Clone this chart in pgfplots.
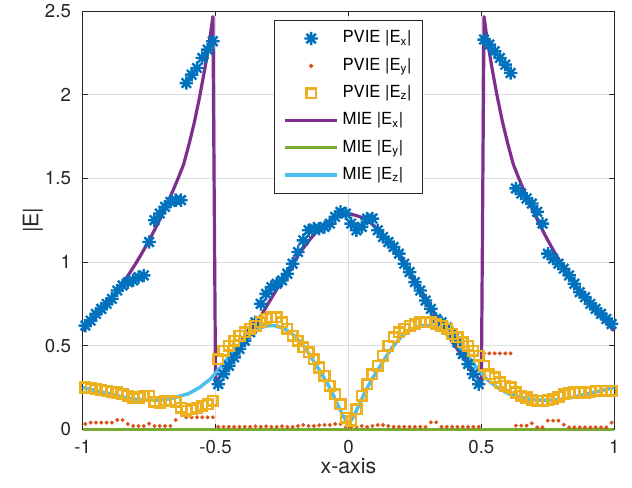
\documentclass[border=0pt]{standalone}
\usepackage{fontspec}
\setmainfont{TeX Gyre Heros}
\usepackage{pgfplots}
\usepackage{pgfplotstable}
\pgfplotsset{compat=1.18}

\definecolor{mblue}{HTML}{0072BD}
\definecolor{mred}{HTML}{D95319}
\definecolor{myellow}{HTML}{EDB120}
\definecolor{mpurple}{HTML}{7E2F8E}
\definecolor{mgreen}{HTML}{77AC30}
\definecolor{mcyan}{HTML}{4DBEEE}
\definecolor{axgray}{HTML}{262626}

% matlab style '*' marker, 8 arms
\pgfdeclareplotmark{mstar}{%
  \pgfpathmoveto{\pgfqpoint{-\pgfplotmarksize}{0pt}}%
  \pgfpathlineto{\pgfqpoint{\pgfplotmarksize}{0pt}}%
  \pgfpathmoveto{\pgfqpoint{0pt}{-\pgfplotmarksize}}%
  \pgfpathlineto{\pgfqpoint{0pt}{\pgfplotmarksize}}%
  \pgfpathmoveto{\pgfqpoint{-.7071\pgfplotmarksize}{-.7071\pgfplotmarksize}}%
  \pgfpathlineto{\pgfqpoint{.7071\pgfplotmarksize}{.7071\pgfplotmarksize}}%
  \pgfpathmoveto{\pgfqpoint{-.7071\pgfplotmarksize}{.7071\pgfplotmarksize}}%
  \pgfpathlineto{\pgfqpoint{.7071\pgfplotmarksize}{-.7071\pgfplotmarksize}}%
  \pgfusepathqstroke}

% PVIE samples (cell centres)
\pgfplotstableread{
x ex ey ez
-0.99 0.62 0.032 0.25
-0.97 0.65 0.040 0.245
-0.95 0.69 0.040 0.24
-0.93 0.72 0.040 0.235
-0.91 0.75 0.040 0.23
-0.89 0.78 0.040 0.225
-0.87 0.83 0.056 0.22
-0.85 0.86 0.056 0.21
-0.83 0.88 0.032 0.20
-0.81 0.89 0.020 0.185
-0.79 0.91 0.020 0.19
-0.77 0.92 0.020 0.20
-0.75 1.12 0.034 0.20
-0.73 1.25 0.020 0.165
-0.71 1.29 0.020 0.16
-0.69 1.33 0.020 0.17
-0.67 1.36 0.020 0.17
-0.65 1.37 0.056 0.165
-0.63 1.37 0.099 0.13
-0.61 2.07 0.072 0.11
-0.59 2.12 0.072 0.12
-0.57 2.16 0.072 0.13
-0.55 2.22 0.072 0.14
-0.53 2.27 0.072 0.15
-0.51 2.32 0.072 0.17
-0.49 0.27 0.015 0.42
-0.47 0.33 0.015 0.47
-0.45 0.38 0.015 0.50
-0.43 0.43 0.015 0.53
-0.41 0.48 0.015 0.56
-0.39 0.53 0.015 0.58
-0.37 0.58 0.015 0.60
-0.35 0.64 0.018 0.62
-0.33 0.75 0.015 0.64
-0.31 0.81 0.018 0.66
-0.29 0.85 0.015 0.67
-0.27 0.87 0.015 0.67
-0.25 0.89 0.018 0.64
-0.23 0.93 0.015 0.60
-0.21 0.99 0.015 0.56
-0.19 1.06 0.020 0.53
-0.17 1.13 0.026 0.49
-0.15 1.19 0.020 0.46
-0.13 1.20 0.020 0.42
-0.11 1.20 0.024 0.37
-0.09 1.21 0.026 0.32
-0.07 1.23 0.026 0.26
-0.05 1.27 0.032 0.21
-0.03 1.30 0.032 0.15
-0.01 1.29 0.015 0.07
0.01 1.23 0.015 0.05
0.03 1.19 0.015 0.12
0.05 1.21 0.020 0.20
0.07 1.26 0.015 0.27
0.09 1.26 0.020 0.33
0.11 1.19 0.026 0.38
0.13 1.15 0.026 0.44
0.15 1.12 0.020 0.50
0.17 1.09 0.015 0.55
0.19 1.05 0.015 0.58
0.21 0.99 0.015 0.60
0.23 0.94 0.015 0.62
0.25 0.88 0.015 0.63
0.27 0.83 0.015 0.64
0.29 0.77 0.015 0.64
0.31 0.72 0.042 0.64
0.33 0.66 0.042 0.63
0.35 0.64 0.015 0.62
0.37 0.61 0.015 0.60
0.39 0.57 0.015 0.57
0.41 0.52 0.015 0.55
0.43 0.45 0.015 0.52
0.45 0.39 0.015 0.50
0.47 0.33 0.015 0.47
0.49 0.27 0.015 0.44
0.51 2.33 0.454 0.38
0.53 2.30 0.454 0.33
0.55 2.26 0.454 0.31
0.57 2.22 0.454 0.28
0.59 2.18 0.454 0.26
0.61 2.13 0.454 0.25
0.63 1.44 0.022 0.22
0.65 1.41 0.022 0.20
0.67 1.38 0.022 0.19
0.69 1.35 0.036 0.175
0.71 1.30 0.012 0.17
0.73 1.23 0.012 0.17
0.75 1.05 0.052 0.175
0.77 1.02 0.052 0.18
0.79 0.99 0.052 0.195
0.81 0.96 0.028 0.21
0.83 0.92 0.012 0.215
0.85 0.87 0.012 0.22
0.87 0.82 0.012 0.22
0.89 0.79 0.012 0.22
0.91 0.75 0.012 0.225
0.93 0.72 0.012 0.23
0.95 0.69 0.012 0.23
0.97 0.66 0.012 0.23
0.99 0.63 0.040 0.23
}\pvie

\begin{document}
\begin{tikzpicture}
\begin{axis}[
    scale only axis,
    width=398.7pt, height=313.65pt,
    xmin=-1, xmax=1, ymin=0, ymax=2.5,
    xtick={-1,-0.5,0,0.5,1},
    ytick={0,0.5,1,1.5,2,2.5},
    clip=false,
    grid=major,
    major grid style={line width=0.6pt, color=black!13},
    axis line style={line width=0.7pt, color=axgray},
    major tick style={line width=0.7pt, color=axgray},
    major tick length=4pt,
    tick align=inside,
    /pgf/number format/assume math mode=true,
    /pgf/number format/fixed,
    ticklabel style={font=\fontsize{14}{16}\selectfont, text=axgray},
    xticklabel style={anchor=base, yshift=-17.8pt},
    yticklabel style={anchor=east, inner xsep=0pt, xshift=-8.6pt},
    xlabel={x-axis},
    ylabel={|E|},
    label style={font=\fontsize{16}{19}\selectfont, text=axgray},
    xlabel style={at={(axis description cs:0.5,0)}, anchor=center, yshift=-27.5pt},
    ylabel style={at={(axis description cs:0,0.5)}, anchor=center, yshift=37.3pt},
    legend cell align=left,
    legend image code/.code={%
      \draw[mark repeat=2,mark phase=2,#1] plot coordinates {(0pt,0pt) (19.5pt,0pt) (39pt,0pt)};},
    legend style={
      at={(0.5,1)}, yshift=-6.7pt, anchor=north,
      draw=axgray, line width=0.6pt, fill=white,
      inner xsep=6.5pt, inner ysep=3.3pt,
      column sep=1.3pt, row sep=0pt,
      font=\fontsize{12.5}{14}\selectfont,
      nodes={inner xsep=1.5pt, inner ysep=3pt, text height=10.5pt, text depth=4pt},
    },
]
\addplot[only marks, mark=mstar, mark size=5pt, color=mblue,
  mark options={line width=1.8pt}] table[x=x, y=ex] {\pvie};
\addlegendentry{PVIE |E\textsubscript{x}|}
\addplot[only marks, mark=*, mark size=1.3pt, color=mred] table[x=x, y=ey] {\pvie};
\addlegendentry{PVIE |E\textsubscript{y}|}
\addplot[only marks, mark=square, mark size=3.6pt, color=myellow,
  mark options={line width=1.9pt}] table[x=x, y=ez] {\pvie};
\addlegendentry{PVIE |E\textsubscript{z}|}

\addplot[color=mpurple, line width=2.4pt, line join=round, no marks] coordinates {
(-1,0.59) (-0.98,0.621) (-0.96,0.655) (-0.94,0.690) (-0.92,0.726) (-0.90,0.765)
(-0.88,0.806) (-0.86,0.849) (-0.84,0.894) (-0.82,0.942) (-0.80,0.992) (-0.78,1.045)
(-0.76,1.101) (-0.74,1.160) (-0.72,1.222) (-0.70,1.287) (-0.68,1.356) (-0.66,1.428)
(-0.64,1.504) (-0.62,1.585) (-0.60,1.703) (-0.58,1.834) (-0.56,1.987) (-0.54,2.159)
(-0.52,2.351) (-0.51,2.467)
(-0.50,0.27) (-0.48,0.325) (-0.46,0.370) (-0.44,0.411) (-0.42,0.455) (-0.40,0.501)
(-0.38,0.550) (-0.36,0.600) (-0.34,0.651) (-0.32,0.704) (-0.30,0.757) (-0.28,0.810)
(-0.26,0.863) (-0.24,0.916) (-0.22,0.967) (-0.20,1.016) (-0.18,1.062) (-0.16,1.105)
(-0.14,1.145) (-0.12,1.181) (-0.10,1.212) (-0.08,1.238) (-0.06,1.258) (-0.04,1.273)
(-0.02,1.282) (0,1.285) (0.02,1.282) (0.04,1.273) (0.06,1.258) (0.08,1.238)
(0.10,1.212) (0.12,1.181) (0.14,1.145) (0.16,1.105) (0.18,1.062) (0.20,1.016)
(0.22,0.967) (0.24,0.916) (0.26,0.863) (0.28,0.810) (0.30,0.757) (0.32,0.704)
(0.34,0.651) (0.36,0.600) (0.38,0.550) (0.40,0.501) (0.42,0.455) (0.44,0.411)
(0.46,0.370) (0.48,0.325) (0.50,0.27)
(0.51,2.467) (0.52,2.351) (0.54,2.159) (0.56,1.987) (0.58,1.834) (0.60,1.703)
(0.62,1.585) (0.64,1.504) (0.66,1.428) (0.68,1.356) (0.70,1.287) (0.72,1.222)
(0.74,1.160) (0.76,1.101) (0.78,1.045) (0.80,0.992) (0.82,0.942) (0.84,0.894)
(0.86,0.849) (0.88,0.806) (0.90,0.765) (0.92,0.726) (0.94,0.690) (0.96,0.655)
(0.98,0.621) (1,0.59)
};
\addlegendentry{MIE |E\textsubscript{x}|}
\addplot[color=mgreen, line width=2.4pt, no marks] coordinates {(-1,0) (1,0)};
\addlegendentry{MIE |E\textsubscript{y}|}
\addplot[color=mcyan, line width=2.6pt, line join=round, no marks] coordinates {
(-1,0.25) (-0.96,0.235) (-0.92,0.22) (-0.88,0.205) (-0.84,0.19) (-0.80,0.18)
(-0.76,0.175) (-0.72,0.175) (-0.68,0.18) (-0.64,0.195) (-0.60,0.215) (-0.56,0.25)
(-0.52,0.30) (-0.50,0.335) (-0.48,0.375) (-0.46,0.415) (-0.44,0.455) (-0.42,0.49)
(-0.40,0.525) (-0.38,0.555) (-0.36,0.58) (-0.34,0.60) (-0.32,0.613) (-0.30,0.62)
(-0.28,0.62) (-0.26,0.612) (-0.24,0.60) (-0.22,0.58) (-0.20,0.555) (-0.18,0.52)
(-0.16,0.48) (-0.14,0.43) (-0.12,0.38) (-0.10,0.33) (-0.08,0.275) (-0.06,0.215)
(-0.04,0.145) (-0.02,0.08) (0,0.03)
(0.02,0.08) (0.04,0.145) (0.06,0.215) (0.08,0.275) (0.10,0.33) (0.12,0.38)
(0.14,0.43) (0.16,0.48) (0.18,0.52) (0.20,0.555) (0.22,0.58) (0.24,0.60)
(0.26,0.612) (0.28,0.62) (0.30,0.62) (0.32,0.613) (0.34,0.60) (0.36,0.58)
(0.38,0.555) (0.40,0.525) (0.42,0.49) (0.44,0.455) (0.46,0.415) (0.48,0.375)
(0.50,0.335) (0.52,0.30) (0.56,0.25) (0.60,0.215) (0.64,0.195) (0.68,0.18)
(0.72,0.175) (0.76,0.175) (0.80,0.18) (0.84,0.19) (0.88,0.205) (0.92,0.22)
(0.96,0.235) (1,0.25)
};
\addlegendentry{MIE |E\textsubscript{z}|}
\end{axis}
\pgfresetboundingbox
\path (current axis.south west) ++(-62pt,-44pt) rectangle ++(474pt,366pt);
\end{tikzpicture}
\end{document}
